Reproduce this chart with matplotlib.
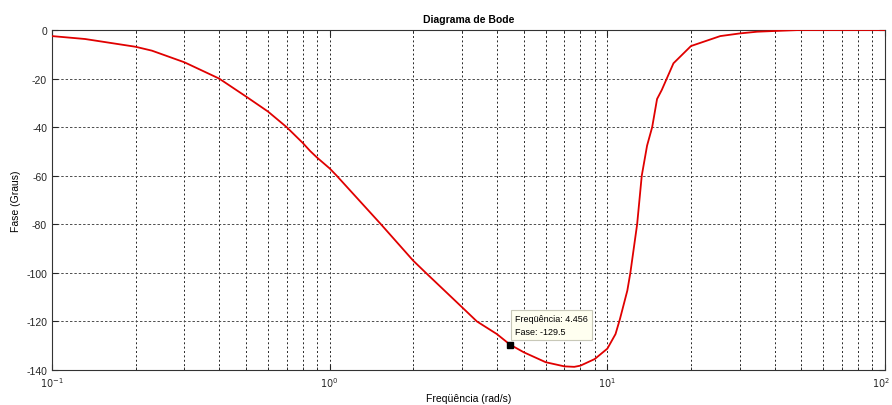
import numpy as np
import matplotlib
matplotlib.use("Agg")
import matplotlib.pyplot as plt
import matplotlib.transforms as mtransforms
from matplotlib.ticker import LogLocator, FixedLocator, NullFormatter

plt.rcParams["font.family"] = ["Liberation Sans", "DejaVu Sans"]
plt.rcParams["axes.unicode_minus"] = False

# Curva de fase (rad/s, graus)
freq = [0.1, 0.1315, 0.2, 0.229, 0.3, 0.4, 0.5, 0.6, 0.7, 0.8, 0.85, 0.9,
        1.0, 1.06, 1.53, 2.0, 2.22, 3.0, 3.39, 4.0, 4.456, 5.0, 6.0, 7.0,
        7.6, 8.0, 9.0, 10.0, 10.7, 11.1, 11.8, 12.1, 12.8, 13.3, 13.9, 14.5,
        15.1, 15.7, 17.3, 20.0, 25.5, 30.0, 34.6, 40.0, 49.0, 60.0, 100.0]
fase = [-2.5, -3.7, -6.9, -8.5, -13.3, -20.0, -27.4, -33.6, -40.0, -46.5,
        -49.8, -52.5, -57.0, -60.0, -80.0, -95.0, -100.0, -114.2, -120.0,
        -125.2, -129.5, -132.7, -136.8, -138.5, -138.7, -138.2, -135.5,
        -131.2, -125.2, -119.0, -107.3, -100.0, -80.0, -60.0, -47.6, -40.0,
        -28.4, -24.7, -13.7, -6.6, -2.5, -1.4, -0.7, -0.4, 0.0, 0.0, 0.0]

# Ponto marcado (datatip)
tip_freq = 4.456
tip_fase = -129.5

y_ticks = [0, -20, -40, -60, -80, -100, -120, -140]
x_ticks = [0.1, 1, 10, 100]
x_labels = [r"$10^{-1}$", r"$10^{0}$", r"$10^{1}$", r"$10^{2}$"]

fig = plt.figure(figsize=(8.92, 4.06), dpi=100)
ax = fig.add_axes([0.0583, 0.0862, 0.9339, 0.8374])

ax.semilogx(freq, fase, color="#e00000", linewidth=1.3, zorder=3)
ax.plot([tip_freq], [tip_fase], marker="s", color="black", markersize=5,
        linestyle="none", zorder=5)

ax.set_xlim(0.1, 100)
ax.set_ylim(-140, 0)
ax.xaxis.set_major_locator(FixedLocator(x_ticks))
ax.set_xticklabels(x_labels)
ax.xaxis.set_minor_locator(LogLocator(base=10, subs=np.arange(2, 10)))
ax.xaxis.set_minor_formatter(NullFormatter())
ax.set_yticks(y_ticks)

ax.grid(True, which="both", axis="x", color="0.15", linestyle=(0, (2, 2.5)),
        linewidth=0.7)
ax.grid(True, which="major", axis="y", color="0.3", linestyle=(0, (2.5, 2)),
        linewidth=0.7)

ax.tick_params(which="both", direction="in", top=True, right=True,
               labelsize=7.5, colors="0.15")
ax.tick_params(axis="x", which="major", labelsize=7)
ax.tick_params(which="major", length=4)
ax.tick_params(which="minor", length=2.5)
for s in ax.spines.values():
    s.set_color("0.2")
    s.set_linewidth(0.8)

# o ultimo rotulo (10^2) fica colado na borda: puxar um pouco p/ esquerda
ultimo = ax.get_xticklabels()[-1]
ultimo.set_transform(ultimo.get_transform() +
                     mtransforms.ScaledTranslation(-4 / 100, 0, fig.dpi_scale_trans))

ax.set_title("Diagrama de Bode", fontsize=7.5, fontweight="bold", pad=6)
ax.set_xlabel("Freqüência (rad/s)", fontsize=7.5, labelpad=3)
ax.set_ylabel("Fase (Graus)", fontsize=7.5, labelpad=4)

ax.annotate(f"Freqüência: {tip_freq}\nFase: {tip_fase}",
            xy=(tip_freq, tip_fase), xytext=(4, 6), textcoords="offset points",
            fontsize=6.5, ha="left", va="bottom", linespacing=1.65,
            bbox=dict(boxstyle="square,pad=0.45", facecolor="#fffff0",
                      edgecolor="#c8c8b8", linewidth=0.8), zorder=6)

plt.savefig("out.png", dpi=100)
